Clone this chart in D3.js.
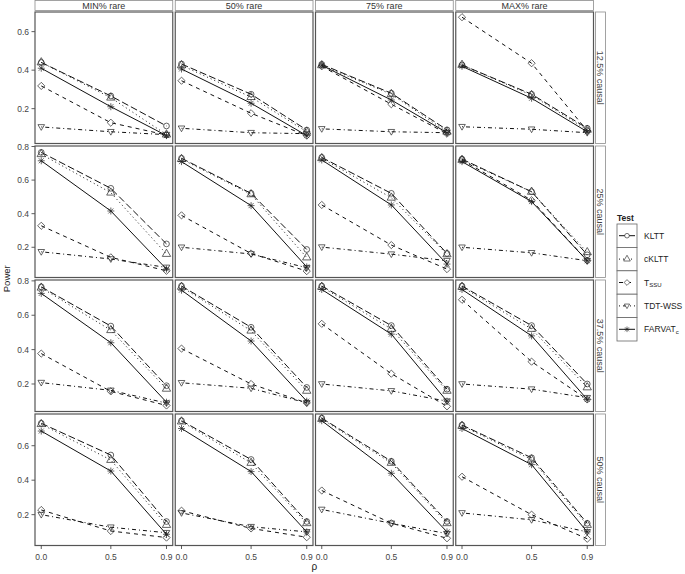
<!DOCTYPE html>
<html>
<head>
<meta charset="utf-8">
<script src="https://cdn.jsdelivr.net/npm/d3@7"></script>
<style>
  body { margin: 0; background: #fff; }
  text { font-family: "Liberation Sans", Arial, sans-serif; }
</style>
</head>
<body>
<svg id="chart" width="685" height="574"></svg>
<script>
// x values (rho) and facet labels
var rho = [0, 0.5, 0.9];
var rareLabels = ["MIN% rare", "50% rare", "75% rare", "MAX% rare"];
var causalLabels = ["12.5% causal", "25% causal", "37.5% causal", "50% causal"];
var testNames = ["KLTT", "cKLTT", "TSSU", "TDT-WSS", "FARVATc"];

// power[row = causal][col = rare][rho]
var klttPower = [
  [[0.44, 0.266, 0.11], [0.432, 0.275, 0.089], [0.43, 0.28, 0.09], [0.427, 0.275, 0.098]],
  [[0.765, 0.551, 0.22], [0.73, 0.521, 0.187], [0.735, 0.521, 0.163], [0.725, 0.531, 0.155]],
  [[0.765, 0.537, 0.19], [0.77, 0.53, 0.18], [0.77, 0.54, 0.17], [0.77, 0.54, 0.2]],
  [[0.73, 0.546, 0.16], [0.745, 0.52, 0.16], [0.76, 0.51, 0.16], [0.72, 0.53, 0.15]]
];
var cklttPower = [
  [[0.44, 0.257, 0.065], [0.425, 0.26, 0.08], [0.425, 0.275, 0.08], [0.427, 0.27, 0.09]],
  [[0.754, 0.525, 0.16], [0.725, 0.515, 0.139], [0.73, 0.495, 0.158], [0.72, 0.53, 0.17]],
  [[0.76, 0.513, 0.172], [0.765, 0.51, 0.16], [0.765, 0.52, 0.16], [0.765, 0.52, 0.18]],
  [[0.725, 0.517, 0.14], [0.74, 0.5, 0.15], [0.755, 0.5, 0.15], [0.715, 0.52, 0.14]]
];
var tssuPower = [
  [[0.318, 0.127, 0.063], [0.345, 0.176, 0.06], [0.42, 0.223, 0.07], [0.675, 0.436, 0.085]],
  [[0.328, 0.14, 0.06], [0.39, 0.163, 0.058], [0.452, 0.213, 0.07], [0.72, 0.48, 0.12]],
  [[0.377, 0.157, 0.075], [0.406, 0.2, 0.09], [0.55, 0.26, 0.07], [0.69, 0.33, 0.11]],
  [[0.227, 0.105, 0.067], [0.223, 0.12, 0.069], [0.34, 0.15, 0.063], [0.42, 0.2, 0.06]]
];
var tdtPower = [
  [[0.105, 0.08, 0.065], [0.098, 0.075, 0.07], [0.095, 0.08, 0.075], [0.106, 0.093, 0.075]],
  [[0.173, 0.13, 0.08], [0.2, 0.16, 0.078], [0.201, 0.159, 0.12], [0.2, 0.167, 0.12]],
  [[0.208, 0.163, 0.089], [0.207, 0.175, 0.09], [0.2, 0.16, 0.1], [0.2, 0.17, 0.12]],
  [[0.2, 0.127, 0.095], [0.21, 0.13, 0.1], [0.23, 0.15, 0.09], [0.21, 0.17, 0.1]]
];
var farvatPower = [
  [[0.41, 0.21, 0.06], [0.406, 0.228, 0.06], [0.425, 0.245, 0.075], [0.42, 0.254, 0.08]],
  [[0.715, 0.416, 0.07], [0.71, 0.448, 0.083], [0.72, 0.452, 0.1], [0.71, 0.472, 0.12]],
  [[0.727, 0.44, 0.094], [0.746, 0.45, 0.1], [0.75, 0.49, 0.1], [0.75, 0.48, 0.11]],
  [[0.685, 0.453, 0.086], [0.70, 0.45, 0.1], [0.745, 0.44, 0.1], [0.70, 0.49, 0.1]]
];

var yTicks = [0.2, 0.4, 0.6, 0.8];
var xTicks = [0, 0.5, 0.9];
// free y scale per row (ggplot facet_grid, scales = "free_y")
var rowDomains = [[0.019, 0.702], [0.02, 0.803], [0.04, 0.805], [0.021, 0.784]];

var seriesData = [klttPower, cklttPower, tssuPower, tdtPower, farvatPower];
var lineStyles = ["7,3", "1,3", "4,4", "1,3,4,3", null];
var shapes = ["circle", "triangle", "diamond", "down", "star"];

var svg = d3.select("#chart");
var left = 35, top0 = 12, panelW = 137.75, panelH = 131.5, gapX = 2.5, gapY = 2.5;

var x = d3.scaleLinear().domain([-0.045, 0.945]).range([0, panelW]);
var yScales = rowDomains.map(function(d) {
  return d3.scaleLinear().domain(d).range([panelH, 0]);
});

function symbolPath(shape) {
  var p = d3.path();
  if (shape === "circle") {
    return d3.symbol().type(d3.symbolCircle).size(26)();
  } else if (shape === "triangle") {
    return d3.symbol().type(d3.symbolTriangle).size(30)();
  } else if (shape === "down") {
    p.moveTo(0, 3.4); p.lineTo(3.3, -2.3); p.lineTo(-3.3, -2.3); p.closePath();
  } else if (shape === "diamond") {
    p.moveTo(0, -3.6); p.lineTo(3.6, 0); p.lineTo(0, 3.6); p.lineTo(-3.6, 0); p.closePath();
  } else {
    p.moveTo(-3.5, 0); p.lineTo(3.5, 0);
    p.moveTo(0, -3.5); p.lineTo(0, 3.5);
    p.moveTo(-2.5, -2.5); p.lineTo(2.5, 2.5);
    p.moveTo(-2.5, 2.5); p.lineTo(2.5, -2.5);
  }
  return p.toString();
}

// strips on top
rareLabels.forEach(function(lab, c) {
  var px = left + c * (panelW + gapX);
  svg.append("rect")
    .attr("x", px).attr("y", 0.5)
    .attr("width", panelW).attr("height", 10)
    .attr("fill", "#fff").attr("stroke", "#8c8c8c").attr("stroke-width", 0.8);
  svg.append("text")
    .attr("x", px + panelW / 2).attr("y", 8.8)
    .attr("text-anchor", "middle")
    .style("font-size", "9px").attr("fill", "#333")
    .text(lab);
});

// strips on the right
causalLabels.forEach(function(lab, r) {
  var py = top0 + r * (panelH + gapY);
  svg.append("rect")
    .attr("x", 595.5).attr("y", py)
    .attr("width", 10).attr("height", panelH)
    .attr("fill", "#fff").attr("stroke", "#8c8c8c").attr("stroke-width", 0.8);
  svg.append("text")
    .attr("transform", "translate(597.3," + (py + panelH / 2) + ") rotate(90)")
    .attr("text-anchor", "middle")
    .style("font-size", "9px").attr("fill", "#444")
    .text(lab);
});

var line = d3.line();

causalLabels.forEach(function(cl, r) {
  var y = yScales[r];
  var py = top0 + r * (panelH + gapY);

  // y axis on the first column
  var ya = svg.append("g").attr("transform", "translate(" + left + "," + py + ")");
  yTicks.filter(function(t) { return t >= rowDomains[r][0] && t <= rowDomains[r][1]; })
    .forEach(function(t) {
      ya.append("line").attr("x1", -3.5).attr("x2", 0)
        .attr("y1", y(t)).attr("y2", y(t))
        .attr("stroke", "#333").attr("stroke-width", 0.8);
      ya.append("text").attr("x", -6).attr("y", y(t) + 3)
        .attr("text-anchor", "end")
        .style("font-size", "8.5px").attr("fill", "#444")
        .text(d3.format(".1f")(t));
    });

  rareLabels.forEach(function(rl, c) {
    var px = left + c * (panelW + gapX);
    var g = svg.append("g").attr("transform", "translate(" + px + "," + py + ")");

    seriesData.forEach(function(sd, s) {
      var pts = sd[r][c].map(function(v, i) { return [x(rho[i]), y(v)]; });
      g.append("path")
        .attr("d", line(pts))
        .attr("fill", "none").attr("stroke", "#111")
        .attr("stroke-width", 1)
        .attr("stroke-dasharray", lineStyles[s]);
    });
    seriesData.forEach(function(sd, s) {
      sd[r][c].forEach(function(v, i) {
        g.append("path")
          .attr("d", symbolPath(shapes[s]))
          .attr("transform", "translate(" + x(rho[i]) + "," + y(v) + ")")
          .attr("fill", "none").attr("stroke", "#222").attr("stroke-width", 0.7);
      });
    });

    g.append("rect")
      .attr("width", panelW).attr("height", panelH)
      .attr("fill", "none").attr("stroke", "#555").attr("stroke-width", 1.2);

    // x axis on the last row
    if (r === causalLabels.length - 1) {
      xTicks.forEach(function(t) {
        g.append("line").attr("x1", x(t)).attr("x2", x(t))
          .attr("y1", panelH).attr("y2", panelH + 3.5)
          .attr("stroke", "#333").attr("stroke-width", 0.8);
        g.append("text").attr("x", x(t)).attr("y", panelH + 14)
          .attr("text-anchor", "middle")
          .style("font-size", "8.5px").attr("fill", "#444")
          .text(d3.format(".1f")(t));
      });
    }
  });
});

// axis titles
svg.append("text")
  .attr("transform", "translate(9.5," + (top0 + 2 * (panelH + gapY) - gapY / 2) + ") rotate(-90)")
  .attr("text-anchor", "middle")
  .style("font-size", "9.5px").attr("fill", "#222")
  .text("Power");
svg.append("text")
  .attr("x", left + (4 * panelW + 3 * gapX) / 2).attr("y", 570)
  .attr("text-anchor", "middle")
  .style("font-size", "10px").attr("fill", "#222")
  .text("ρ");

// legend
var lg = svg.append("g").attr("transform", "translate(617,224)");
lg.append("text").attr("x", 0).attr("y", -3)
  .style("font-size", "8.5px").style("font-weight", "bold").attr("fill", "#222")
  .text("Test");
var keyH = 23.4, keyW = 20;
testNames.forEach(function(name, s) {
  var ky = s * keyH;
  lg.append("rect").attr("x", 0).attr("y", ky)
    .attr("width", keyW).attr("height", keyH)
    .attr("fill", "#fff").attr("stroke", "#666").attr("stroke-width", 0.8);
  lg.append("line").attr("x1", 2).attr("x2", keyW - 2)
    .attr("y1", ky + keyH / 2).attr("y2", ky + keyH / 2)
    .attr("stroke", "#111").attr("stroke-width", 1)
    .attr("stroke-dasharray", lineStyles[s]);
  lg.append("path").attr("d", symbolPath(shapes[s]))
    .attr("transform", "translate(" + keyW / 2 + "," + (ky + keyH / 2) + ") scale(0.8)")
    .attr("fill", "#fff").attr("stroke", "#222").attr("stroke-width", 0.8);
  var t = lg.append("text").attr("x", 27).attr("y", ky + keyH / 2 + 3)
    .style("font-size", "8.5px").attr("fill", "#222");
  if (name === "TSSU") {
    t.append("tspan").text("T");
    t.append("tspan").attr("dy", 1.5).style("font-size", "6px").text("SSU");
  } else if (name === "FARVATc") {
    t.append("tspan").text("FARVAT");
    t.append("tspan").attr("dy", 1.5).style("font-size", "6px").text("c");
  } else {
    t.text(name);
  }
});
</script>
</body>
</html>
